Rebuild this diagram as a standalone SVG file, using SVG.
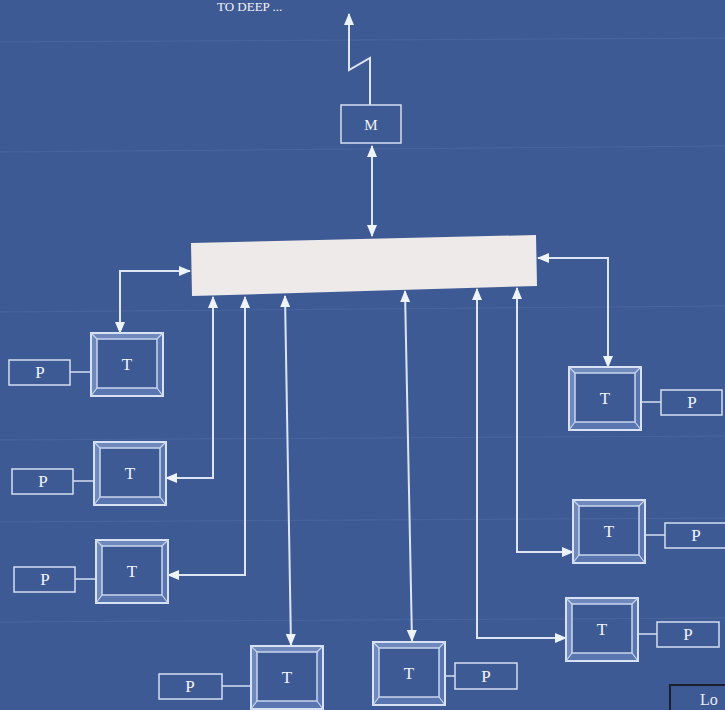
<svg xmlns="http://www.w3.org/2000/svg" width="725" height="710" viewBox="0 0 725 710">
<defs>
<style>
.ln{fill:none;stroke:#dde5f4;stroke-width:2;marker-end:url(#ah);}
.bi{marker-start:url(#ah);}
.p{fill:none;stroke:#d4def0;stroke-width:1.5;}
.tl{font-family:"Liberation Serif",serif;font-size:17px;fill:#f2f4fa;text-anchor:middle;}
.scan{stroke:#7f97c6;stroke-width:1;opacity:0.18;}
</style>
<marker id="ah" markerUnits="userSpaceOnUse" markerWidth="12" markerHeight="10" refX="11" refY="5" orient="auto-start-reverse">
<path d="M0,0 L12,5 L0,10 z" fill="#eef2fa"/>
</marker>
<g id="tbox">
<path d="M0,0 H72 L66,6 H6 Z" fill="#6f89bd"/>
<path d="M0,0 V63 L6,55 V6 Z" fill="#6f89bd"/>
<path d="M72,0 V63 L66,55 V6 Z" fill="#5a76b0"/>
<path d="M0,63 H72 L66,55 H6 Z" fill="#5a76b0"/>
<rect x="0" y="0" width="72" height="63" fill="none" stroke="#d8e2f4" stroke-width="2"/>
<rect x="6" y="6" width="60" height="49" fill="none" stroke="#c9d6ee" stroke-width="1.5"/>
<path d="M0,0 L6,6 M72,0 L66,6 M0,63 L6,55 M72,63 L66,55" stroke="#c9d6ee" stroke-width="1.2"/>
</g>
</defs>
<rect width="725" height="710" fill="#3e5a95"/>
<g id="texture">
<line class="scan" x1="0" y1="42" x2="725" y2="38"/>
<line class="scan" x1="0" y1="152" x2="725" y2="146"/>
<line class="scan" x1="0" y1="312" x2="725" y2="306"/>
<line class="scan" x1="0" y1="440" x2="725" y2="436"/>
<line class="scan" x1="0" y1="522" x2="725" y2="518"/>
<line class="scan" x1="0" y1="622" x2="725" y2="618"/>
</g>
<text x="217" y="11" style="font-family:'Liberation Serif',serif;font-size:13px;fill:#f2f4fa;">TO DEEP ...</text>

<g id="connectors">
<path class="ln" d="M370,105 V58 L349,70 V14"/>
<path class="ln bi" d="M372,146 V236"/>
<path class="ln bi" d="M190,271 H120 V333"/>
<path class="ln bi" d="M213,297 V478 H166"/>
<path class="ln bi" d="M245,297 V575 H168"/>
<path class="ln bi" d="M285,296 L291,645"/>
<path class="ln bi" d="M405,291 L412,641"/>
<path class="ln bi" d="M477,289 V638 H566"/>
<path class="ln bi" d="M517,288 V552 H573"/>
<path class="ln bi" d="M538,258 H608 V367"/>
<path class="p" d="M70,372 H91 M73,481 H94 M75,579 H96 M222,686 H251 M445,676 H455 M637,634 H657 M645,535 H665 M641,402 H661"/>
</g>

<g id="bar"><polygon points="191,243 536,235 537,286 192,296" fill="#eeeaea"/></g>

<g id="M"><rect class="p" x="341" y="105" width="60" height="38"/><text class="tl" x="371" y="130" style="font-size:15px">M</text></g>

<g id="T1"><use href="#tbox" x="91" y="333"/><text class="tl" x="127" y="370">T</text></g>
<g id="T2"><use href="#tbox" x="94" y="442"/><text class="tl" x="130" y="479">T</text></g>
<g id="T3"><use href="#tbox" x="96" y="540"/><text class="tl" x="132" y="577">T</text></g>
<g id="T4"><use href="#tbox" x="251" y="646"/><text class="tl" x="287" y="683">T</text></g>
<g id="T5"><use href="#tbox" x="373" y="642"/><text class="tl" x="409" y="679">T</text></g>
<g id="T6"><use href="#tbox" x="566" y="598"/><text class="tl" x="602" y="635">T</text></g>
<g id="T7"><use href="#tbox" x="573" y="500"/><text class="tl" x="609" y="537">T</text></g>
<g id="T8"><use href="#tbox" x="569" y="367"/><text class="tl" x="605" y="404">T</text></g>

<g id="P1"><rect class="p" x="9" y="360" width="61" height="25"/><text class="tl" x="40" y="378">P</text></g>
<g id="P2"><rect class="p" x="12" y="469" width="61" height="25"/><text class="tl" x="43" y="487">P</text></g>
<g id="P3"><rect class="p" x="14" y="567" width="61" height="25"/><text class="tl" x="45" y="585">P</text></g>
<g id="P4"><rect class="p" x="159" y="674" width="63" height="25"/><text class="tl" x="190" y="692">P</text></g>
<g id="P5"><rect class="p" x="455" y="663" width="62" height="26"/><text class="tl" x="486" y="682">P</text></g>
<g id="P6"><rect class="p" x="657" y="622" width="62" height="25"/><text class="tl" x="688" y="640">P</text></g>
<g id="P7"><rect class="p" x="665" y="523" width="62" height="25"/><text class="tl" x="696" y="541">P</text></g>
<g id="P8"><rect class="p" x="661" y="390" width="61" height="25"/><text class="tl" x="692" y="408">P</text></g>

<g id="corner"><path d="M670,712 V685 H727" fill="none" stroke="#1a1f2e" stroke-width="2"/><text x="700" y="705" style="font-family:'Liberation Serif',serif;font-size:16px;fill:#e8ecf5;">Lo</text></g>
</svg>
